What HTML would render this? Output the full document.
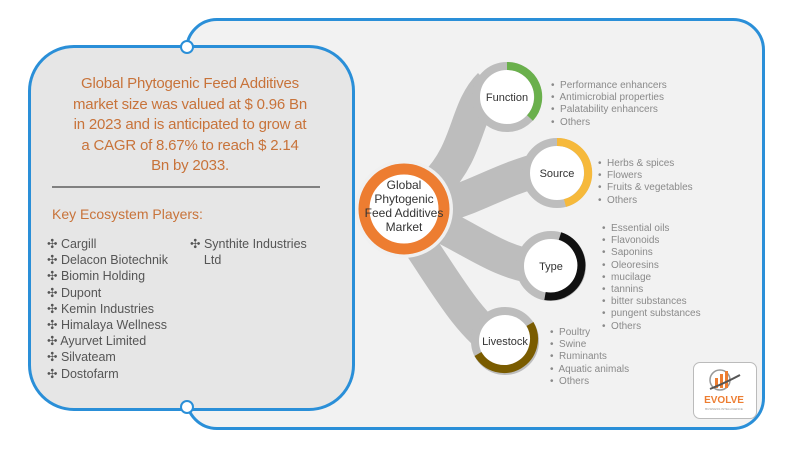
<!DOCTYPE html>
<html><head><style>
body{margin:0;width:800px;height:450px;background:#fff;overflow:hidden;font-family:"Liberation Sans",sans-serif;position:relative}
.ab{position:absolute}
.lst{position:absolute;font-size:10px;color:#8a8a8a;line-height:12.2px;white-space:nowrap}
.pl{position:absolute;left:47px;font-size:12.5px;color:#555;line-height:16.2px;white-space:nowrap}
</style></head><body>
<div class="ab" style="left:185px;top:18px;width:574px;height:406px;border:3px solid #2a8fd8;border-radius:32px;background:#f2f2f2"></div>
<div class="ab" style="left:28px;top:45px;width:321px;height:360px;border:3px solid #2a8fd8;border-radius:46px;background:#e6e6e6"></div>
<div class="ab" style="left:180px;top:40px;width:10px;height:10px;border:2px solid #2a8fd8;border-radius:50%;background:#fff"></div>
<div class="ab" style="left:180px;top:400px;width:10px;height:10px;border:2px solid #2a8fd8;border-radius:50%;background:#fff"></div>
<div class="ab" style="left:50px;top:74px;width:280px;text-align:center;color:#c8733a;font-size:15px;line-height:20.5px;letter-spacing:-0.2px">Global Phytogenic Feed Additives<br>market size was valued at $ 0.96 Bn<br>in 2023 and is anticipated to grow at<br>a CAGR of 8.67% to reach $ 2.14<br>Bn by 2033.</div>
<div class="ab" style="left:52px;top:186px;width:268px;height:2px;background:#808080"></div>
<div class="ab" style="left:52px;top:206px;color:#c8733a;font-size:14px">Key Ecosystem Players:</div>
<div class="pl" style="top:236px">✣ Cargill<br>✣ Delacon Biotechnik<br>✣ Biomin Holding<br>✣ Dupont<br>✣ Kemin Industries<br>✣ Himalaya Wellness<br>✣ Ayurvet Limited<br>✣ Silvateam<br>✣ Dostofarm</div>
<div class="pl" style="top:236px;left:190px">✣ Synthite Industries<br>&nbsp;&nbsp;&nbsp;&nbsp;Ltd</div>
<svg class="ab" style="left:0;top:0" width="800" height="450">
<g fill="none" stroke="#bdbdbd" stroke-width="34" stroke-linecap="butt">
<path d="M435 185 C470 150 465 110 490 85"/>
<path d="M445 205 C480 195 500 180 545 168"/>
<path d="M440 225 C480 245 500 262 540 268"/>
<path d="M420 245 C450 290 470 325 500 345"/>
</g>
<circle cx="404" cy="209" r="47" fill="#fff" stroke="#f0f0f0" stroke-width="4"/>
<circle cx="404" cy="209" r="40" fill="#fff" stroke="#ed7d31" stroke-width="11"/>
<g stroke-width="8" fill="#fff">
<circle cx="507" cy="97" r="31" stroke="#bdbdbd"/>
<path d="M507 66 A31 31 0 0 1 530 118" stroke="#6ab04c" fill="none"/>
<circle cx="557" cy="173" r="31" stroke="#bdbdbd"/>
<path d="M557 142 A31 31 0 0 1 565 203" stroke="#f6b93b" fill="none"/>
<circle cx="551" cy="266" r="31" stroke="#bdbdbd"/>
<path d="M560 236 A31 31 0 0 1 545 296" stroke="#111" fill="none"/>
<circle cx="505" cy="341" r="30" stroke="#bdbdbd"/>
<path d="M530 324 A30 30 0 0 1 478 354" stroke="#7a5c00" fill="none"/>
</g>
<g font-size="11" fill="#333" text-anchor="middle" font-family="Liberation Sans,sans-serif">
<text x="404" y="189" font-size="12">Global</text>
<text x="404" y="203" font-size="12">Phytogenic</text>
<text x="404" y="217" font-size="12">Feed Additives</text>
<text x="404" y="231" font-size="12">Market</text>
<text x="507" y="101">Function</text>
<text x="557" y="177">Source</text>
<text x="551" y="270">Type</text>
<text x="505" y="345">Livestock</text>
</g>
</svg>
<div class="lst" style="left:551px;top:80px">•&nbsp; Performance enhancers<br>•&nbsp; Antimicrobial properties<br>•&nbsp; Palatability enhancers<br>•&nbsp; Others</div>
<div class="lst" style="left:598px;top:158px">•&nbsp; Herbs &amp; spices<br>•&nbsp; Flowers<br>•&nbsp; Fruits &amp; vegetables<br>•&nbsp; Others</div>
<div class="lst" style="left:602px;top:223px">•&nbsp; Essential oils<br>•&nbsp; Flavonoids<br>•&nbsp; Saponins<br>•&nbsp; Oleoresins<br>•&nbsp; mucilage<br>•&nbsp; tannins<br>•&nbsp; bitter substances<br>•&nbsp; pungent substances<br>•&nbsp; Others</div>
<div class="lst" style="left:550px;top:327px">•&nbsp; Poultry<br>•&nbsp; Swine<br>•&nbsp; Ruminants<br>•&nbsp; Aquatic animals<br>•&nbsp; Others</div>
<div class="ab" style="left:693px;top:362px;width:62px;height:55px;border:1px solid #bbb;border-radius:7px;background:#fff"></div>
<svg class="ab" style="left:705px;top:365px" width="40" height="30"><circle cx="15" cy="15" r="10" fill="none" stroke="#999" stroke-width="1.5"/><rect x="10" y="13" width="3" height="10" fill="#ed7d31"/><rect x="15" y="9" width="3" height="14" fill="#ed7d31"/><rect x="20" y="6" width="3" height="17" fill="#ed7d31"/><path d="M5 24 Q20 18 35 10" stroke="#555" stroke-width="2" fill="none"/></svg>
<div class="ab" style="left:693px;top:395px;width:62px;text-align:center;color:#ed7d31;font-weight:bold;font-size:10px">EVOLVE</div>
<div class="ab" style="left:693px;top:407px;width:62px;text-align:center;color:#999;font-size:3px">BUSINESS INTELLIGENCE</div>
</body></html>
